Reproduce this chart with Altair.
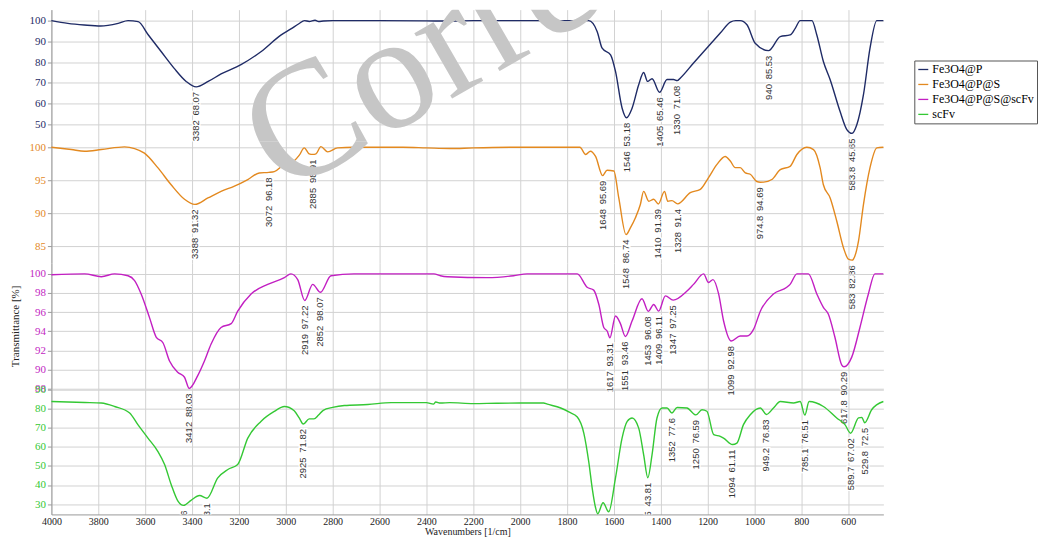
import altair as alt
import pandas as pd

series_names = ["Fe3O4@P", "Fe3O4@P@S", "Fe3O4@P@S@scFv", "scFv"]
series_colors = ["#1f2b66", "#e3891f", "#c21fc2", "#34c834"]

x_ticks = list(range(4000, 599, -200))

# spectra: (wavenumber [1/cm], transmittance [%])
fe3o4_p = [
    (4000, 100), (3930, 98.7), (3860, 97.9), (3790, 97.4), (3715, 98.7), (3673, 100),
    (3630, 99.5), (3587, 93.2), (3531, 85), (3476, 77), (3425, 70.7), (3382, 68.07),
    (3331, 70.7), (3276, 74.3), (3191, 78.8), (3106, 85), (3021, 93), (2978, 96),
    (2944, 98.5), (2920, 100), (2900, 99.6), (2875, 100.2), (2860, 99.6), (2840, 99.8),
    (2800, 100), (2600, 100), (2400, 99.9), (2300, 99.8), (2200, 100), (2000, 100),
    (1800, 100), (1707, 100), (1671, 94.7), (1650, 86.7), (1614, 83.5), (1593, 75.5),
    (1565, 57.9), (1546, 53.18), (1522, 57.9), (1494, 69.1), (1473, 75), (1456, 70.7),
    (1437, 72), (1405, 65.46), (1373, 71.6), (1345, 71.6), (1330, 71.08), (1316, 72.4),
    (1260, 79.6), (1203, 86.8), (1146, 94), (1103, 99.3), (1080, 100), (1061, 100),
    (1032, 98), (997, 89.1), (940, 85.53), (890, 92.3), (848, 93.1), (826, 96.3),
    (805, 100), (755, 100), (734, 93.1), (706, 80.3), (677, 71.5), (635, 56.3),
    (606, 47.5), (583.8, 45.65), (563, 49.9), (535, 64.3), (507, 86.7), (478, 100), (450, 100),
]
fe3o4_p_s = [
    (4000, 100), (3915, 99.65), (3858, 99.4), (3787, 99.65), (3688, 100.05), (3645, 99.8),
    (3603, 99.1), (3546, 96.9), (3489, 94.3), (3432, 92.1), (3388, 91.32), (3332, 92.3),
    (3276, 93.3), (3219, 94.1), (3162, 95.1), (3113, 96.1), (3072, 96.18), (3049, 96.3),
    (3006, 97.4), (2978, 97.6), (2942, 98.8), (2921, 99.9), (2900, 99.0), (2885, 98.91),
    (2871, 99.0), (2850, 100.1), (2821, 99.3), (2779, 99.9), (2709, 100), (2500, 100),
    (2400, 99.9), (2300, 99.8), (2200, 99.9), (2000, 100), (1800, 100), (1745, 100),
    (1720, 98.9), (1700, 99.4), (1678, 98.6), (1648, 95.69), (1629, 96.5), (1600, 96.4),
    (1579, 92.3), (1548, 86.74), (1529, 87.8), (1508, 89.3), (1487, 91.3), (1473, 93.3),
    (1451, 91.8), (1430, 92.1), (1410, 91.39), (1384, 93.3), (1370, 91.8), (1352, 91.9),
    (1328, 91.4), (1274, 93.1), (1231, 93.6), (1196, 95.4), (1160, 97.4), (1125, 98.6),
    (1103, 97.9), (1082, 96.9), (1061, 96.9), (1039, 96.1), (1018, 95.9), (990, 94.8),
    (974.8, 94.69), (961, 94.7), (926, 95.1), (890, 96.6), (848, 97.1), (819, 98.9),
    (777, 100), (748, 99.65), (720, 96.9), (706, 94.3), (677, 92.3), (649, 88.8),
    (620, 84.7), (599, 83), (583, 82.86), (578, 83), (556, 85.8), (535, 91.3),
    (507, 96.9), (478, 99.9), (450, 100),
]
fe3o4_p_s_scfv = [
    (4000, 99.9), (3858, 100), (3787, 99.7), (3730, 100), (3673, 99.8), (3645, 99.3),
    (3617, 97.9), (3581, 95.4), (3553, 93.4), (3524, 92.8), (3496, 90.9), (3460, 89.7),
    (3432, 89.2), (3412, 88.03), (3375, 89.4), (3347, 90.9), (3318, 92.7), (3276, 94.4),
    (3233, 94.8), (3205, 96.1), (3148, 97.9), (3077, 98.9), (3006, 99.6), (2978, 100),
    (2949, 99.4), (2919, 97.22), (2885, 98.9), (2852, 98.07), (2807, 99.8), (2709, 100),
    (2400, 100), (2368, 100), (2340, 99.8), (2310, 99.7), (2140, 99.6), (2028, 99.8),
    (1970, 100), (1827, 100), (1756, 100), (1714, 98.6), (1686, 98.3), (1664, 96.8),
    (1643, 94.4), (1628, 94), (1617, 93.31), (1593, 95.6), (1572, 94.8), (1551, 93.46),
    (1522, 95.1), (1480, 97.4), (1453, 96.08), (1430, 96.8), (1409, 96.11), (1380, 97.7),
    (1347, 97.25), (1288, 98.2), (1260, 98.9), (1217, 100), (1196, 99.1), (1177, 99.4),
    (1153, 97.9), (1132, 95.1), (1099, 92.98), (1061, 93.5), (1032, 93.5), (1004, 94.2),
    (975, 96.1), (919, 97.9), (862, 98.6), (848, 98.9), (819, 100), (770, 100),
    (734, 97.9), (706, 96.5), (685, 95.8), (657, 93.4), (628, 90.5), (617.8, 90.29),
    (585, 91.3), (550, 94.4), (514, 97.9), (486, 100), (450, 100),
]
scfv = [
    (4000, 83.6), (3858, 83.1), (3787, 82.8), (3730, 81), (3666, 77.6), (3631, 71.5),
    (3588, 64.5), (3546, 57.6), (3517, 50.7), (3489, 40.3), (3460, 31.6), (3436, 29.36),
    (3404, 32), (3368, 34.5), (3336, 33.1), (3290, 43.7), (3247, 48.1), (3205, 50.7),
    (3162, 64.5), (3106, 73.2), (3049, 78.4), (3006, 81), (2964, 78.8), (2942, 74.9),
    (2925, 71.82), (2900, 74.5), (2880, 74.5), (2860, 76.5), (2840, 79), (2800, 80.5),
    (2750, 81.5), (2650, 82), (2550, 83), (2400, 83), (2370, 82.2), (2360, 83.3),
    (2340, 82.8), (2300, 83), (2200, 82.5), (2100, 82.7), (2000, 82.8), (1900, 82.8),
    (1884, 82.2), (1827, 80.2), (1790, 78), (1756, 75.5), (1728, 67), (1707, 52),
    (1692, 38), (1678, 28.1), (1669, 25.0), (1646, 30.7), (1622, 26.0), (1593, 43.7),
    (1565, 64.5), (1543, 73.2), (1522, 75), (1494, 69.7), (1473, 55.9), (1455, 43.81),
    (1437, 55.9), (1416, 75), (1394, 80.2), (1373, 80.2), (1352, 77.6), (1330, 80.5),
    (1288, 80.2), (1250, 76.59), (1224, 79.3), (1203, 78.5), (1174, 66.3), (1146, 65.4),
    (1132, 64.5), (1094, 61.11), (1075, 61.9), (1047, 71.5), (1018, 76.7), (975, 80.2),
    (949.2, 76.83), (919, 80.2), (890, 83.6), (833, 82.8), (805, 83.6), (785.1, 76.51),
    (767, 83.6), (706, 81), (649, 75), (614, 71.5), (589.7, 67.02), (556, 75),
    (542, 75.3), (529.8, 72.5), (500, 79.3), (450, 83.6),
]

# annotated peaks: (wavenumber, transmittance)
fe3o4_p_peaks = [(3382, 68.07), (1546, 53.18), (1405, 65.46), (1330, 71.08), (940, 85.53), (583.8, 45.65)]
fe3o4_p_s_peaks = [(3388, 91.32), (3072, 96.18), (2885, 98.91), (1648, 95.69), (1548, 86.74),
                   (1410, 91.39), (1328, 91.4), (974.8, 94.69), (583, 82.86)]
fe3o4_p_s_scfv_peaks = [(3412, 88.03), (2919, 97.22), (2852, 98.07), (1617, 93.31), (1551, 93.46),
                        (1453, 96.08), (1409, 96.11), (1347, 97.25), (1099, 92.98), (617.8, 90.29)]
scfv_peaks = [(3436, 29.36), (3336, 33.1), (2925, 71.82), (1455, 43.81), (1352, 77.6), (1250, 76.59),
              (1094, 61.11), (949.2, 76.83), (785.1, 76.51), (589.7, 67.02), (529.8, 72.5)]

y_ticks = [
    [50, 60, 70, 80, 90, 100],
    [85, 90, 95, 100],
    [88, 90, 92, 94, 96, 98, 100],
    [30, 40, 50, 60, 70, 80, 90],
]
y_domains = [[41.83, 105.3], [82.42, 100.9], [88.0, 101.13], [24.64, 90.27]]
panel_heights = [132, 122, 126, 126]

spectra = [fe3o4_p, fe3o4_p_s, fe3o4_p_s_scfv, scfv]
peaks = [fe3o4_p_peaks, fe3o4_p_s_peaks, fe3o4_p_s_scfv_peaks, scfv_peaks]

watermark = pd.DataFrame({"t": ["Corrected"]})
wm_y = [187, 55]

GRID = "#d2d2d2"
AXIS = "#9a9a9a"
SERIF = "Liberation Serif"

color_enc = alt.Color(
    "series:N",
    scale=alt.Scale(domain=series_names, range=series_colors),
    legend=alt.Legend(
        title=None, orient="none", legendX=865, legendY=51,
        symbolType="stroke", symbolSize=100, symbolStrokeWidth=1.3,
        labelFont=SERIF, labelFontSize=12, labelColor="black",
        strokeColor="#555555", fillColor="white", padding=3, rowPadding=3,
        labelOffset=3,
    ),
)

panels = []
for i in range(4):
    df = pd.DataFrame(spectra[i], columns=["wn", "T"])
    df["series"] = series_names[i]
    pk = pd.DataFrame(peaks[i], columns=["wn", "T"])
    pk["label"] = [f"{w:g}\u2002{v:g}" for w, v in peaks[i]]

    last = i == 3
    if last:
        xaxis = alt.Axis(values=x_ticks, format="d", labelFont=SERIF, labelFontSize=10,
                         labelColor="#222", labelFlush=False, labelOverlap=False, ticks=False,
                         labelPadding=2, domainColor=AXIS, gridColor=GRID,
                         title="Wavenumbers [1/cm]", titleFont=SERIF, titleFontSize=10,
                         titleFontWeight="normal", titleColor="#222", titlePadding=0)
    else:
        xaxis = alt.Axis(values=x_ticks, labels=False, ticks=False, domain=False,
                         gridColor=GRID, title=None)
    ykw = dict(values=y_ticks[i], labelColor=series_colors[i], labelFont=SERIF,
               labelFontSize=11, tickSize=4, tickColor=AXIS, domainColor=AXIS,
               gridColor=GRID, labelPadding=2)
    if i == 2:
        yaxis = alt.Axis(title="Transmittance [%]", titleFont=SERIF, titleFontSize=11,
                         titleFontWeight="normal", titleColor="#222", titlePadding=8, **ykw)
    else:
        yaxis = alt.Axis(title=None, **ykw)

    x = alt.X("wn:Q", scale=alt.Scale(domain=[4000, 450], nice=False, zero=False), axis=xaxis)
    y = alt.Y("T:Q", scale=alt.Scale(domain=y_domains[i], nice=False, zero=False), axis=yaxis)

    line = alt.Chart(df).mark_line(strokeWidth=1.4, interpolate="monotone").encode(
        x=x, y=y, color=color_enc)
    halo = alt.Chart(pk).mark_text(
        angle=270, align="right", baseline="middle", dx=-5, font="Liberation Sans",
        fontSize=9.5, fill="white", stroke="white", strokeWidth=3, clip=last,
    ).encode(x=x, y=y, text="label:N")
    txt = alt.Chart(pk).mark_text(
        angle=270, align="right", baseline="middle", dx=-5, font="Liberation Sans",
        fontSize=9.5, fill="#333333", clip=last,
    ).encode(x=x, y=y, text="label:N")
    layers = [line, halo, txt]
    if i < 2:
        wm = alt.Chart(watermark).mark_text(
            font=SERIF, fontSize=165, angle=330, align="left", baseline="alphabetic",
            color="#c6c6c6", clip=True,
        ).encode(text="t:N", x=alt.value(232), y=alt.value(wm_y[i]))
        layers.append(wm)
    panels.append(alt.layer(*layers).properties(width=834, height=panel_heights[i]))

chart = alt.vconcat(*panels, spacing=0, bounds="flush").resolve_scale(
    x="independent", y="independent", color="shared"
).resolve_axis(x="independent", y="independent").properties(
    padding={"left": 1.5, "top": 0, "right": 0, "bottom": 0}
).configure_view(stroke="transparent")

chart.save("out.html", embed_options={"renderer": "svg", "actions": False})
